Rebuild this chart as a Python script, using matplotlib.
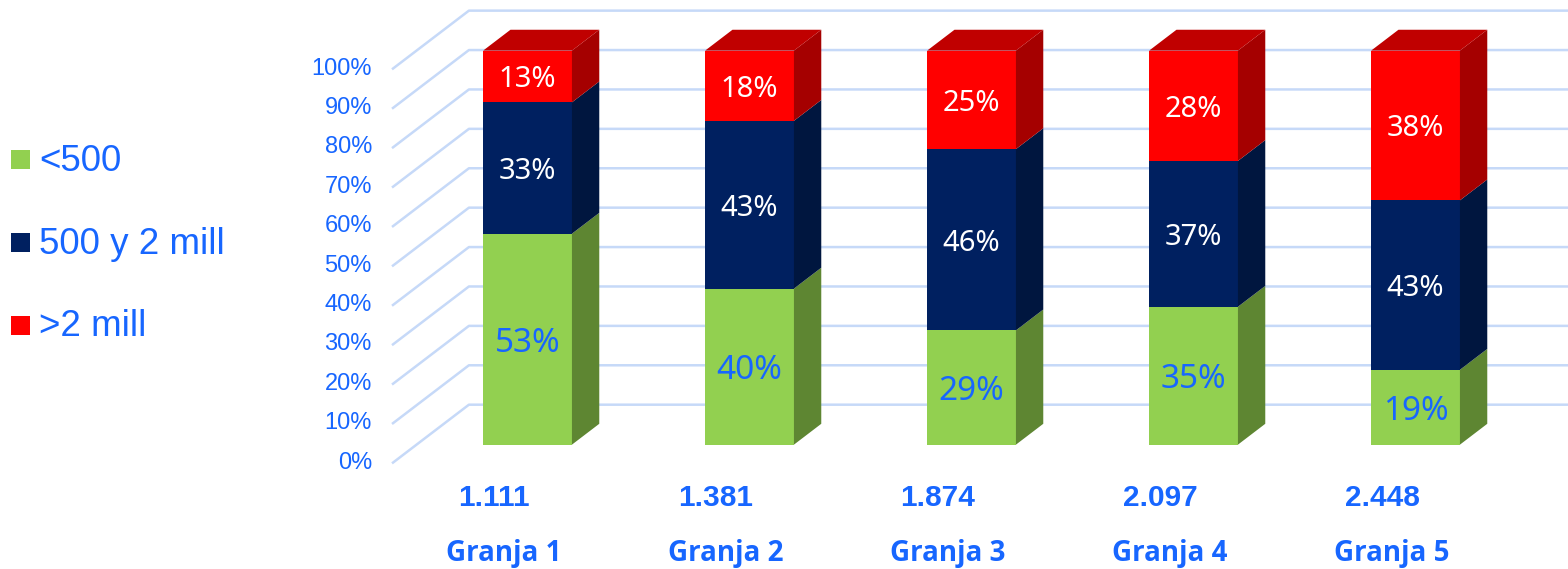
import matplotlib.pyplot as plt
from matplotlib.patches import Polygon, Rectangle

# data
farms = ['Granja 1', 'Granja 2', 'Granja 3', 'Granja 4', 'Granja 5']
totals = ['1.111', '1.381', '1.874', '2.097', '2.448']
series = ['<500', '500 y 2 mill', '>2 mill']
small = [53, 40, 29, 35, 19]
medium = [33, 43, 46, 37, 43]
large = [13, 18, 25, 28, 38]
ticks = [0, 10, 20, 30, 40, 50, 60, 70, 80, 90, 100]

blue = '#1766ff'
front_cols = ['#92d050', '#002060', '#ff0000']
side_cols = ['#5e8632', '#00163f', '#a50000']
top_col = '#c00000'
grid_col = '#c6d9f8'

# fake 3D: depth vector (in data units) and bar depth planes
DX, DY = 0.342, 14.7
d1, d2 = 0.31, 0.67
w = 0.4

fig = plt.figure(figsize=(15.68, 5.69), dpi=100)
ax = fig.add_axes([0, 0, 1, 1])
ax.set_xlim(-504 / 222, (1568 - 504) / 222)
ax.set_ylim(-27.0, 117.4)
ax.axis('off')
xmax = ax.get_xlim()[1]


def shift(x, y, d):
    return (x + d * DX, y + d * DY)


# floor / wall grid
for t in ticks:
    ax.plot([-0.5, -0.5 + DX, xmax], [t, t + DY, t + DY], color=grid_col, lw=1.8, zorder=1)
    ax.text(-0.595, t, f'{t}%', ha='right', va='center', color=blue,
            fontsize=17, family='Liberation Sans')

# stacked 3D bars
for i in range(len(farms)):
    vals = [small[i], medium[i], large[i]]
    tot = sum(vals)
    b = 0
    for k, v in enumerate(vals):
        h = v / tot * 100
        x0, x1 = i - w / 2, i + w / 2
        front = [shift(x0, b, d1), shift(x1, b, d1), shift(x1, b + h, d1), shift(x0, b + h, d1)]
        side = [shift(x1, b, d1), shift(x1, b, d2), shift(x1, b + h, d2), shift(x1, b + h, d1)]
        ax.add_patch(Polygon(front, closed=True, fc=front_cols[k], ec='none', zorder=3))
        ax.add_patch(Polygon(side, closed=True, fc=side_cols[k], ec='none', zorder=3))
        if k == len(vals) - 1:
            top = [shift(x0, b + h, d1), shift(x1, b + h, d1), shift(x1, b + h, d2), shift(x0, b + h, d2)]
            ax.add_patch(Polygon(top, closed=True, fc=top_col, ec='none', zorder=3))
        cx, cy = shift(i, b + h / 2, d1)
        if k == 0:
            ax.text(cx, cy, f'{v}%', ha='center', va='center_baseline', color=blue,
                    fontsize=24, family='Noto Sans', zorder=4)
        else:
            ax.text(cx, cy, f'{v}%', ha='center', va='center_baseline', color='white',
                    fontsize=21, family='Noto Sans', zorder=4)
        b += h
    ax.text(i - 0.045, -9.1, totals[i], ha='center', va='center', color=blue,
            fontsize=21.5, fontweight='bold', family='Liberation Sans')
    ax.text(i, -23.1, farms[i], ha='center', va='center', color=blue,
            fontsize=20, fontweight='bold', family='Open Sans')

# legend on the left
W, H = 1568, 569
for k, (name, base, top) in enumerate(zip(series, [171, 254, 336], [150, 233, 316])):
    fig.patches.append(Rectangle((11 / W, 1 - (top + 19) / H), 19 / W, 19 / H,
                                 transform=fig.transFigure, fc=front_cols[k], ec='none'))
    fig.text(39 / W, 1 - base / H, name, ha='left', va='baseline', color=blue,
             fontsize=26.5, family='Liberation Sans')

plt.savefig('out.png', dpi=100)
